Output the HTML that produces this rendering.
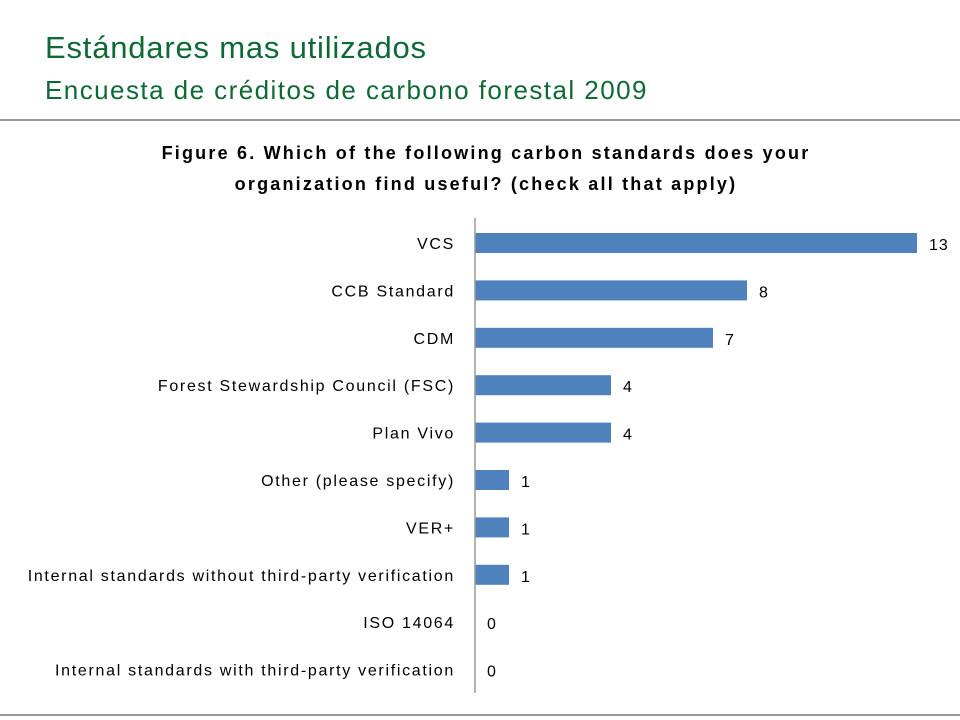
<!DOCTYPE html>
<html><head><meta charset="utf-8"><style>
body{margin:0;background:#fff;}
#wrap{position:relative;width:960px;height:720px;overflow:hidden;font-family:"Liberation Sans",sans-serif;}
.t1{position:absolute;left:45px;top:30px;font-size:31px;color:#0e6a35;letter-spacing:0.8px;}
.t2{position:absolute;left:45px;top:75px;font-size:26px;color:#0e6a35;letter-spacing:1.45px;}
</style></head><body>
<div id="wrap">
<div class="t1">Estándares mas utilizados</div>
<div class="t2">Encuesta de créditos de carbono forestal 2009</div>
<div style="position:absolute;left:0;top:119px;width:960px;height:2px;background:#999"></div>
<div style="position:absolute;left:0;top:714px;width:960px;height:2px;background:#999"></div>
<svg id="chart" width="960" height="720" style="position:absolute;left:0;top:0">
<text x="486" y="159" text-anchor="middle" font-size="18" letter-spacing="2.2" font-weight="bold" fill="#000">Figure 6. Which of the following carbon standards does your</text>
<text x="486" y="190" text-anchor="middle" font-size="18" letter-spacing="2.2" font-weight="bold" fill="#000">organization find useful? (check all that apply)</text>
</svg>
</div>
<script>
const categories=["VCS","CCB Standard","CDM","Forest Stewardship Council (FSC)","Plan Vivo","Other (please specify)","VER+","Internal standards without third-party verification","ISO 14064","Internal standards with third-party verification"];
const values=[13,8,7,4,4,1,1,1,0,0];
const svg=document.getElementById('chart');
const NS='http://www.w3.org/2000/svg';
const x0=475,unit=34,y0=243,step=47.4;
const xs=v=>x0+v*unit;
const ys=i=>y0+i*step;
function mk(t,a){const e=document.createElementNS(NS,t);for(const k in a)e.setAttribute(k,a[k]);svg.appendChild(e);return e;}
categories.forEach((c,i)=>{
  const y=ys(i);
  const r=mk('rect',{x:x0,y:y-10,width:xs(values[i])-x0,height:20,fill:'#4f81bd'});
  
  
  const l=mk('text',{x:455,y:y+6,'text-anchor':'end','font-size':'16','letter-spacing':'1.7',fill:'#000'});
  l.textContent=c;
  
  
  const v=mk('text',{x:xs(values[i])+12,y:y+7,'font-size':'16','letter-spacing':'1',fill:'#000'});
  v.textContent=values[i];
  
  
});
const ax=mk('line',{x1:x0,y1:218,x2:x0,y2:693,stroke:'#999','stroke-width':'1.5'});


</script>
</body></html>
